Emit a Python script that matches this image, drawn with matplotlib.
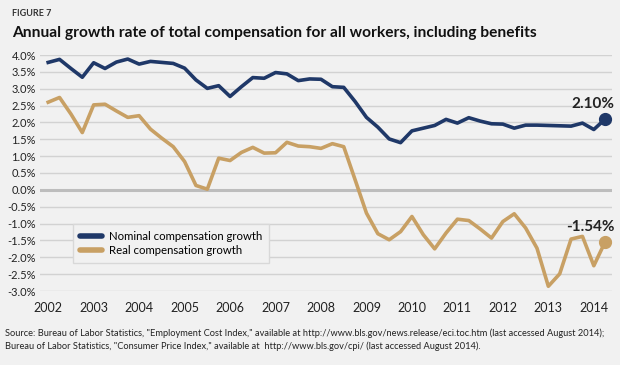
import numpy as np
import matplotlib.pyplot as plt

# quarterly, 2002 Q1 .. 2014 Q2
quarters = np.arange(2002, 2014.26, 0.25)

nominal = [3.78, 3.87, 3.60, 3.34, 3.77, 3.60, 3.79, 3.88, 3.73, 3.81,
           3.78, 3.75, 3.61, 3.26, 3.01, 3.09, 2.77, 3.06, 3.33, 3.31,
           3.48, 3.44, 3.24, 3.29, 3.28, 3.06, 3.04, 2.62, 2.15, 1.86,
           1.51, 1.40, 1.75, 1.83, 1.91, 2.09, 1.98, 2.14, 2.04, 1.96,
           1.95, 1.83, 1.92, 1.92, 1.91, 1.90, 1.89, 1.98, 1.79, 2.10]

real = [2.60, 2.74, 2.25, 1.70, 2.52, 2.54, 2.34, 2.15, 2.20, 1.80,
        1.53, 1.28, 0.84, 0.13, 0.02, 0.94, 0.87, 1.11, 1.26, 1.09,
        1.10, 1.41, 1.30, 1.28, 1.23, 1.37, 1.28, 0.30, -0.69, -1.30,
        -1.48, -1.24, -0.79, -1.33, -1.75, -1.28, -0.87, -0.91, -1.16, -1.43,
        -0.94, -0.71, -1.13, -1.73, -2.86, -2.49, -1.46, -1.38, -2.25, -1.54]

years = list(range(2002, 2015))
yticks = np.arange(-3.0, 4.01, 0.5)

bg = "#f1f1f1"
navy = "#1f3868"
tan = "#c8a064"

plt.rcParams["font.family"] = ["Lato", "DejaVu Sans"]

fig = plt.figure(figsize=(6.2, 3.65), dpi=100, facecolor=bg)
ax = fig.add_axes([40 / 620, 1 - 291 / 365, 572 / 620, 236 / 365])
ax.set_facecolor(bg)

for v in yticks:
    if abs(v) < 1e-9:
        ax.axhline(v, color="#bdbdbd", lw=2.2, zorder=1)
    else:
        ax.axhline(v, color="#d2d2d2", lw=1, zorder=1)

ax.plot(quarters, nominal, color=navy, lw=2.6, solid_joinstyle="round",
        label="Nominal compensation growth", zorder=3)
ax.plot(quarters, real, color=tan, lw=2.6, solid_joinstyle="round",
        label="Real compensation growth", zorder=3)
ax.plot(quarters[-1], nominal[-1], "o", color=navy, ms=8.5, zorder=4)
ax.plot(quarters[-1], real[-1], "o", color=tan, ms=8.5, zorder=4)

ax.annotate(f"{nominal[-1]:.2f}%", (quarters[-1], nominal[-1]),
            xytext=(-9, 8), textcoords="offset points", ha="center",
            fontsize=11, fontweight="bold", color="#222222")
ax.annotate(f"{real[-1]:.2f}%", (quarters[-1], real[-1]),
            xytext=(-11, 8), textcoords="offset points", ha="center",
            fontsize=11, fontweight="bold", color="#222222")

ax.set_xlim(2001.82, 2014.40)
ax.set_ylim(-3.0, 4.0)
ax.set_yticks(yticks)
ax.set_yticklabels([f"{v:.1f}%" for v in yticks], fontsize=8, color="#222222")
ax.set_xticks(years)
ax.set_xticklabels([str(y) for y in years], fontsize=9, color="#222222")
ax.tick_params(length=0, axis="y", pad=3)
ax.tick_params(length=0, axis="x", pad=8)
for s in ax.spines.values():
    s.set_visible(False)

leg = ax.legend(loc="upper left", bbox_to_anchor=(27 / 572, 1 - (218 - 55) / 236),
                fontsize=8.2, frameon=True, fancybox=False, handlelength=2.0,
                handletextpad=0.6, borderpad=0.6, labelspacing=0.3)
leg.get_frame().set_facecolor(bg)
leg.get_frame().set_edgecolor("#d8d8d8")
leg.get_frame().set_alpha(1)
for h in leg.get_lines():
    h.set_linewidth(4)
    h.set_solid_capstyle("round")

fig.text(12 / 620, 1 - 14 / 365, "FIGURE 7", fontsize=6.5, fontweight="bold",
         color="#333333", va="center")
fig.text(12 / 620, 1 - 33 / 365,
         "Annual growth rate of total compensation for all workers, including benefits",
         fontsize=11.2, fontweight="bold", color="#111111", va="center")
fig.text(5 / 620, 1 - 333 / 365,
         'Source: Bureau of Labor Statistics, "Employment Cost Index," available at '
         'http://www.bls.gov/news.release/eci.toc.htm (last accessed August 2014);',
         fontsize=6.65, color="#222222", va="center")
fig.text(5 / 620, 1 - 346 / 365,
         'Bureau of Labor Statistics, "Consumer Price Index," available at  '
         'http://www.bls.gov/cpi/ (last accessed August 2014).',
         fontsize=6.65, color="#222222", va="center")

fig.savefig("out.png", dpi=100, facecolor=bg)
